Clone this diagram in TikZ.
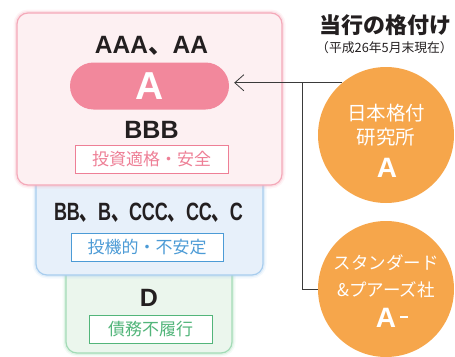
\documentclass[tikz,border=0pt]{standalone}
\usepackage{fontspec}
\setmainfont{Noto Sans CJK JP}
\newfontfamily\latb{Liberation Sans}
\usetikzlibrary{arrows.meta}
\definecolor{pinkfill}{HTML}{FDF0F2}
\definecolor{pinkborder}{HTML}{F4A9B9}
\definecolor{pillcol}{HTML}{F2889C}
\definecolor{pinklabel}{HTML}{EE7F96}
\definecolor{bluefill}{HTML}{E7F0FA}
\definecolor{blueborder}{HTML}{A8CDEE}
\definecolor{bluelabel}{HTML}{4C9BD6}
\definecolor{greenfill}{HTML}{EBF6ED}
\definecolor{greenborder}{HTML}{A3DBB6}
\definecolor{greenlabel}{HTML}{52B57A}
\definecolor{orangecol}{HTML}{F6A64B}
\definecolor{darktext}{HTML}{231F20}
\definecolor{linecol}{HTML}{3A3A3A}
\newcommand{\tc}{{\bfseries 、}}
\tikzset{
  grade/.style={font=\fontsize{25}{25}\selectfont\latb\bfseries, text=darktext, inner sep=0pt},
  labelbox/.style={rectangle, fill=white, draw=#1, line width=1pt, text=#1, inner sep=0pt,
    minimum height=28pt, font=\fontsize{17}{17}\selectfont},
  ratecircle/.style={circle, fill=orangecol, minimum size=136pt, inner sep=0pt},
  circtext/.style={text=white, font=\fontsize{19.5}{19.5}\selectfont, inner sep=0pt},
  circgrade/.style={text=white, font=\fontsize{28}{28}\selectfont\latb\bfseries, inner sep=0pt},
  conn/.style={draw=linecol, line width=0.8pt}
}
\newcommand{\glowbox}[4]{% corner1, corner2, border, fill
  \draw[#3, opacity=0.12, line width=7pt, rounded corners=11pt] #1 rectangle #2;
  \draw[#3, opacity=0.25, line width=4pt, rounded corners=11pt] #1 rectangle #2;
  \draw[#3, fill=#4, line width=1.2pt, rounded corners=11pt] #1 rectangle #2;
}
\begin{document}
\begin{tikzpicture}[x=1pt,y=-1pt]
\useasboundingbox (0,0) rectangle (455,356);
% boxes (back to front)
\glowbox{(66,255)}{(232,353)}{greenborder}{greenfill}
\glowbox{(36,165)}{(263,275)}{blueborder}{bluefill}
\glowbox{(17,13)}{(282,185)}{pinkborder}{pinkfill}
% pink tier
\node[grade] (g1) at (151.5,46) {\resizebox{113pt}{\height}{AAA{\rmfamily\tc}AA}};
\node[rectangle, rounded corners=23.5pt, fill=pillcol, minimum width=159pt, minimum height=47pt, inner sep=0pt,
  text=white, font=\fontsize{39}{39}\selectfont\latb\bfseries] (pill) at (149.5,86) {A};
\node[grade] (g2) at (151.5,130) {BBB};
\node[labelbox=pinklabel, minimum width=153pt] (l1) at (151.5,159) {投資適格・安全};
% blue tier
\node[grade] (g3) at (148.5,213) {\resizebox{189pt}{\height}{BB{\rmfamily\tc}B{\rmfamily\tc}CCC{\rmfamily\tc}CC{\rmfamily\tc}C}};
\node[labelbox=bluelabel, minimum width=152pt] (l2) at (147,247) {投機的・不安定};
% green tier
\node[grade] (g4) at (149,298) {D};
\node[labelbox=greenlabel, minimum width=123pt] (l3) at (150.5,329) {債務不履行};
% title
\node[font=\fontsize{22}{22}\selectfont\bfseries, text=darktext, inner sep=0pt] (title) at (385.5,25) {当行の格付け};
\node[font=\fontsize{12.8}{12.8}\selectfont, text=darktext, inner sep=0pt] (sub) at (384.5,48) {（平成26年5月末現在）};
% circles
\node[ratecircle] (c1) at (386,135) {};
\node[circtext] (c1a) at (386,113) {日本格付};
\node[circtext] (c1b) at (386,137) {研究所};
\node[circgrade] (c1c) at (387,168) {A};
\node[ratecircle] (c2) at (386,289) {};
\node[circtext, font=\fontsize{17.5}{17.5}\selectfont] (c2a) at (386,263) {スタンダード};
\node[circtext, font=\fontsize{17.5}{17.5}\selectfont] (c2b) at (386,290) {\&プアーズ社};
\node[circgrade] (c2c) at (392,318) {A\hspace{4pt}\raisebox{10pt}{\rule{8pt}{2pt}}};
% connectors
\coordinate (j) at (302,0);
\draw[conn, -{Straight Barb[length=9pt,width=16pt]}] (c1.130) -- ([xshift=5pt]pill.east |- c1.130);
\draw[conn] (j |- c1.130) |- (c2.west);
\end{tikzpicture}
\end{document}
